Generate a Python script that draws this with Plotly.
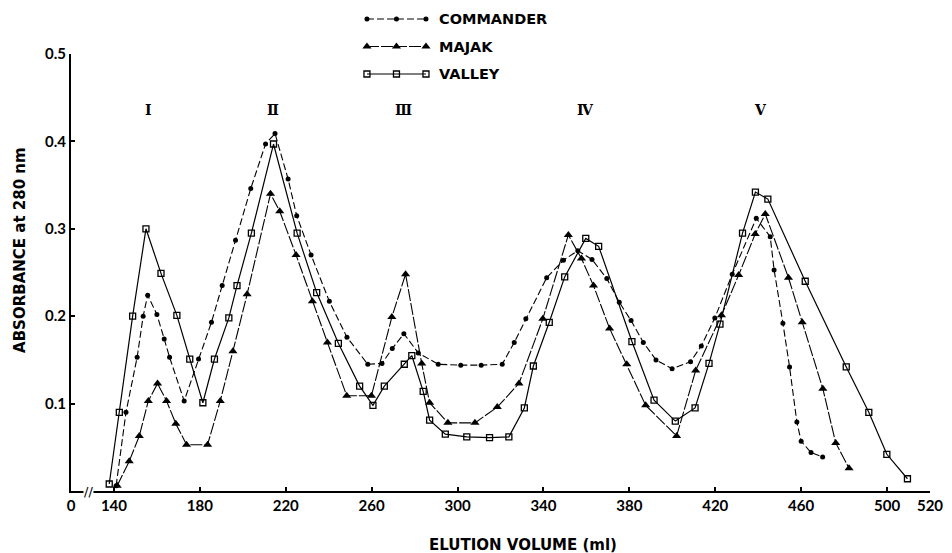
import plotly.graph_objects as go

# ---------------- data ----------------
commander_ml = [141.0, 145.6, 150.8, 153.6, 155.7, 160.0, 163.4, 165.9, 172.7, 179.4,
                185.4, 190.4, 196.6, 203.7, 210.6, 215.0, 221.1, 225.1, 231.8, 240.3,
                248.5, 258.2, 264.8, 269.6, 275.0, 281.7, 291.0, 301.5, 311.0, 320.8,
                326.4, 331.8, 341.5, 349.3, 356.0, 362.6, 369.5, 375.3, 380.8, 386.5,
                392.4, 399.9, 408.5, 413.5, 419.8, 427.9, 439.1, 445.6, 447.4, 451.5,
                454.6, 458.0, 460.0, 464.6, 470.0]
commander_abs = [0.006, 0.090, 0.153, 0.200, 0.224, 0.202, 0.174, 0.153, 0.103, 0.151,
                 0.193, 0.235, 0.287, 0.346, 0.397, 0.409, 0.357, 0.315, 0.270, 0.217,
                 0.176, 0.145, 0.146, 0.163, 0.180, 0.158, 0.145, 0.144, 0.144, 0.145,
                 0.170, 0.197, 0.244, 0.264, 0.275, 0.265, 0.243, 0.216, 0.195, 0.170,
                 0.150, 0.140, 0.148, 0.166, 0.198, 0.248, 0.312, 0.291, 0.253, 0.192,
                 0.142, 0.079, 0.057, 0.044, 0.039]

majak_ml = [141.5, 147.1, 151.8, 156.0, 160.3, 164.5, 168.8, 173.8, 183.6, 189.5,
            195.4, 202.0, 212.9, 217.2, 224.8, 232.4, 239.4, 248.4, 259.9, 269.4,
            275.8, 283.3, 287.0, 295.5, 308.1, 318.5, 328.6, 339.7, 351.6, 357.7,
            363.3, 370.8, 378.8, 387.6, 402.0, 410.9, 422.9, 430.9, 438.6, 443.3,
            454.1, 460.5, 470.1, 476.1, 482.3]
majak_abs = [0.006, 0.034, 0.063, 0.103, 0.123, 0.103, 0.077, 0.053, 0.053, 0.103,
             0.160, 0.225, 0.340, 0.320, 0.270, 0.217, 0.170, 0.109, 0.109, 0.199,
             0.248, 0.146, 0.101, 0.078, 0.078, 0.096, 0.123, 0.197, 0.293, 0.266,
             0.235, 0.186, 0.145, 0.098, 0.063, 0.138, 0.201, 0.247, 0.294, 0.317,
             0.244, 0.193, 0.117, 0.055, 0.026]

valley_ml = [137.8, 142.5, 148.7, 154.9, 161.9, 169.3, 175.3, 181.4, 186.8, 193.5,
             197.3, 204.0, 214.3, 225.3, 234.4, 244.5, 254.4, 260.6, 265.9, 275.2,
             278.7, 284.0, 287.0, 294.3, 304.3, 314.9, 323.9, 331.1, 335.3, 342.7,
             349.9, 359.7, 365.7, 381.2, 391.5, 401.4, 410.6, 417.1, 422.2, 432.7,
             438.7, 444.5, 461.9, 481.0, 491.5, 499.9, 509.5]
valley_abs = [0.008, 0.090, 0.200, 0.300, 0.249, 0.201, 0.151, 0.101, 0.151, 0.198,
              0.235, 0.295, 0.397, 0.295, 0.227, 0.169, 0.120, 0.098, 0.120, 0.145,
              0.155, 0.114, 0.081, 0.065, 0.062, 0.061, 0.062, 0.095, 0.143, 0.193,
              0.245, 0.289, 0.280, 0.171, 0.104, 0.080, 0.095, 0.146, 0.191, 0.295,
              0.342, 0.334, 0.240, 0.142, 0.090, 0.042, 0.014]

# x axis: broken axis, the "0" tick sits where 120 ml would be
x_tickvals = [120, 140, 180, 220, 260, 300, 340, 380, 420, 460, 500, 520]
x_ticktext = ["0", "140", "180", "220", "260", "300", "340", "380", "420", "460", "500", "520"]
y_tickvals = [0.1, 0.2, 0.3, 0.4, 0.5]
y_ticktext = ["0.1", "0.2", "0.3", "0.4", "0.5"]

peak_labels = ["Ⅰ", "Ⅱ", "Ⅲ", "Ⅳ", "Ⅴ"]
peak_ml = [156.3, 214.0, 274.9, 359.5, 440.9]
peak_label_y = 0.436

series_names = ["COMMANDER", "MAJAK", "VALLEY"]
legend_sample_x = [0, 1, 2]
legend_rows = [0, 1, 2]

# ---------------- styling ----------------
TICKFONT = "Lato"
TITLEFONT = "DejaVu Sans"
styles = {
    "COMMANDER": dict(marker=dict(symbol="circle", size=5, color="black"),
                      line=dict(color="black", width=1.1, dash="7px,3px")),
    "MAJAK": dict(marker=dict(symbol="triangle-up", size=8, color="black"),
                  line=dict(color="black", width=1.1, dash="12px,2px")),
    "VALLEY": dict(marker=dict(symbol="square-open", size=6, color="black",
                               line=dict(width=1.3, color="black")),
                   line=dict(color="black", width=1.2)),
}

fig = go.Figure()
for name, xs, ys in [("COMMANDER", commander_ml, commander_abs),
                     ("MAJAK", majak_ml, majak_abs),
                     ("VALLEY", valley_ml, valley_abs)]:
    fig.add_trace(go.Scatter(x=xs, y=ys, mode="lines+markers", name=name,
                             showlegend=False, cliponaxis=False, **styles[name]))

# hand-drawn style legend on its own small axes
for row, name in zip(legend_rows, series_names):
    fig.add_trace(go.Scatter(x=legend_sample_x, y=[row] * len(legend_sample_x),
                             mode="lines+markers", xaxis="x2", yaxis="y2",
                             showlegend=False, hoverinfo="skip", cliponaxis=False,
                             **styles[name]))
    fig.add_annotation(x=legend_sample_x[-1] + 0.37, y=row, xref="x2", yref="y2",
                       text=name, showarrow=False, xanchor="left", yanchor="middle",
                       font=dict(family=TITLEFONT, size=14.5, color="black", weight="bold"))

for lab, xm in zip(peak_labels, peak_ml):
    fig.add_annotation(x=xm, y=peak_label_y, xref="x", yref="y", text=lab,
                       showarrow=False, font=dict(family="DejaVu Serif", size=14,
                                                  color="black", weight="bold"))

# axis break mark
fig.add_annotation(x=128, y=0, xref="x", yref="y", text="//", showarrow=False,
                   bgcolor="white", borderpad=0,
                   font=dict(family="DejaVu Sans", size=13, color="black"))

# axis titles
fig.add_annotation(x=-0.0594, y=0.496, xref="paper", yref="paper",
                   xanchor="center", yanchor="middle",
                   text="ABSORBANCE at 280 nm", textangle=-90, showarrow=False,
                   font=dict(family=TITLEFONT, size=15, color="black", weight="bold"))
fig.add_annotation(x=0.526, y=-0.111, xref="paper", yref="paper",
                   xanchor="center", yanchor="middle",
                   text="ELUTION VOLUME (ml)", showarrow=False,
                   font=dict(family=TITLEFONT, size=15, color="black", weight="bold"))

fig.update_layout(
    width=952, height=553,
    margin=dict(l=71, r=22, t=5, b=62, autoexpand=False),
    paper_bgcolor="white", plot_bgcolor="white",
    xaxis=dict(range=[120, 520], tickvals=x_tickvals, ticktext=x_ticktext,
               showgrid=False, zeroline=False, showline=True, linecolor="black",
               linewidth=2, ticks="inside", ticklen=4, tickwidth=1.5, tickcolor="black",
               tickfont=dict(family=TICKFONT, size=15, color="black", weight="bold"),
               anchor="y", automargin=False),
    yaxis=dict(range=[0, 0.5], domain=[0, 437 / 486], tickvals=y_tickvals,
               ticktext=y_ticktext, showgrid=False, zeroline=False, showline=True,
               linecolor="black", linewidth=2, ticks="inside", ticklen=4,
               tickwidth=1.5, tickcolor="black",
               tickfont=dict(family=TICKFONT, size=15, color="black", weight="bold"),
               anchor="x", automargin=False),
    xaxis2=dict(domain=[0.3364, 0.5227], range=[-0.237, 5.186], visible=False,
                anchor="y2", fixedrange=True, automargin=False),
    yaxis2=dict(domain=[0.8292, 1.0], range=[2.509, -0.509], visible=False,
                anchor="x2", fixedrange=True, automargin=False),
)

fig.write_html("out.html", config={"displayModeBar": False},
               post_script="document.body.style.margin='0';document.body.style.overflow='hidden';")
